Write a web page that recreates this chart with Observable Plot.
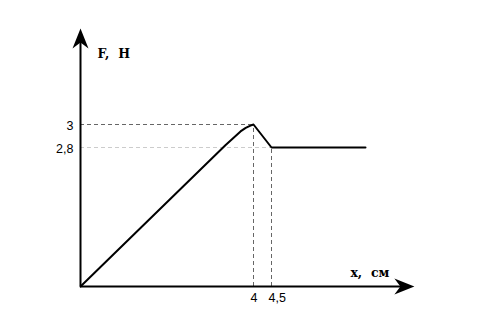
<!DOCTYPE html>
<html>
<head>
<meta charset="utf-8">
<script src="https://cdn.jsdelivr.net/npm/d3@7"></script>
<script src="https://cdn.jsdelivr.net/npm/@observablehq/plot@0.6"></script>
<style>
  html, body { margin: 0; padding: 0; background: #fff; }
</style>
</head>
<body>
<div id="chart"></div>
<script>
// Force vs displacement (drawing not to scale)
const forceX = [0, 3.35, 3.7, 3.82, 3.93, 4, 4.5, 7];
const forceY = [0, 2.82, 2.94, 2.97, 2.99, 3, 2.8, 2.8];

const xTicks = [4, 4.5];
const xTickLabels = ["4", "4,5"];
const yTicks = [3, 2.8];
const yTickLabels = ["3", "2,8"];

const xAxisEnd = 8.3;
const yAxisEnd = 4;
const xAxisTitle = "x,  см";
const yAxisTitle = "F,  Н";

const curve = forceX.map((x, i) => ({x, y: forceY[i]}));

// the sketch is not drawn to scale: piecewise warps applied as scale transforms
const xWarp = d3.scaleLinear().domain([0, 4, 4.5, 7]).range([0, 173, 191, 285]);
const yWarp = d3.scaleLinear().domain([0, 2.8, 3, 4]).range([0, 139, 162, 258]);

// filled barbed arrowhead, tip at origin, pointing up
const arrowHead = {
  draw(ctx) {
    ctx.moveTo(0, 0);
    ctx.lineTo(-8, 20);
    ctx.lineTo(0, 14);
    ctx.lineTo(8, 20);
    ctx.closePath();
  }
};

const chart = Plot.plot({
  width: 481,
  height: 320,
  margin: 0,
  style: {background: "#fff"},
  x: {transform: xWarp, domain: [0, 333], range: [80, 413], axis: null},
  y: {transform: yWarp, domain: [0, 258], range: [286, 28], axis: null},
  marks: [
    // guide lines
    Plot.ruleY([yTicks[0]], {x1: 0, x2: xTicks[0], stroke: "#666", strokeWidth: 1, strokeDasharray: "4,3"}),
    Plot.ruleY([yTicks[1]], {x1: 0, x2: xTicks[1], stroke: "#ccc", strokeWidth: 1, strokeDasharray: "4,3"}),
    Plot.ruleX([xTicks[0]], {y1: 0, y2: yTicks[0], stroke: "#666", strokeWidth: 1, strokeDasharray: "4,3"}),
    Plot.ruleX([xTicks[1]], {y1: 0, y2: yTicks[1], stroke: "#666", strokeWidth: 1, strokeDasharray: "4,3"}),
    // axes
    Plot.ruleX([0], {y1: 0, y2: yAxisEnd - 0.1, stroke: "#000", strokeWidth: 2}),
    Plot.ruleY([0], {x1: 0, x2: xAxisEnd - 0.2, stroke: "#000", strokeWidth: 2}),
    Plot.dot([{x: 0, y: yAxisEnd}], {x: "x", y: "y", symbol: arrowHead, fill: "#000", stroke: "none"}),
    Plot.dot([{x: xAxisEnd, y: 0}], {x: "x", y: "y", symbol: arrowHead, rotate: 90, fill: "#000", stroke: "none"}),
    // curve
    Plot.line(curve, {x: "x", y: "y", stroke: "#000", strokeWidth: 2, strokeLinejoin: "round"}),
    // tick labels
    Plot.text(yTicks, {x: 0, y: d => d, text: (d, i) => yTickLabels[i], textAnchor: "end", dx: -7, dy: 1,
      fontFamily: "Liberation Sans, Arial, sans-serif", fontSize: 12.5, fill: "#000"}),
    Plot.text(xTicks, {x: d => d, y: 0, text: (d, i) => xTickLabels[i], textAnchor: "start", dx: -3, dy: 11.5,
      fontFamily: "Liberation Sans, Arial, sans-serif", fontSize: 12.5, fill: "#000"}),
    // axis titles
    Plot.text([yAxisTitle], {x: 0, y: yAxisEnd, text: d => d, textAnchor: "start", dx: 17, dy: 25.5,
      fontFamily: "DejaVu Serif, serif", fontWeight: "bold", fontSize: 12.5, fill: "#000"}),
    Plot.text([xAxisTitle], {x: xAxisEnd, y: 0, text: d => d, textAnchor: "end", dx: -25, dy: -14,
      fontFamily: "DejaVu Serif, serif", fontWeight: "bold", fontSize: 12.5, fill: "#000"})
  ]
});
document.getElementById("chart").appendChild(chart);
</script>
</body>
</html>
